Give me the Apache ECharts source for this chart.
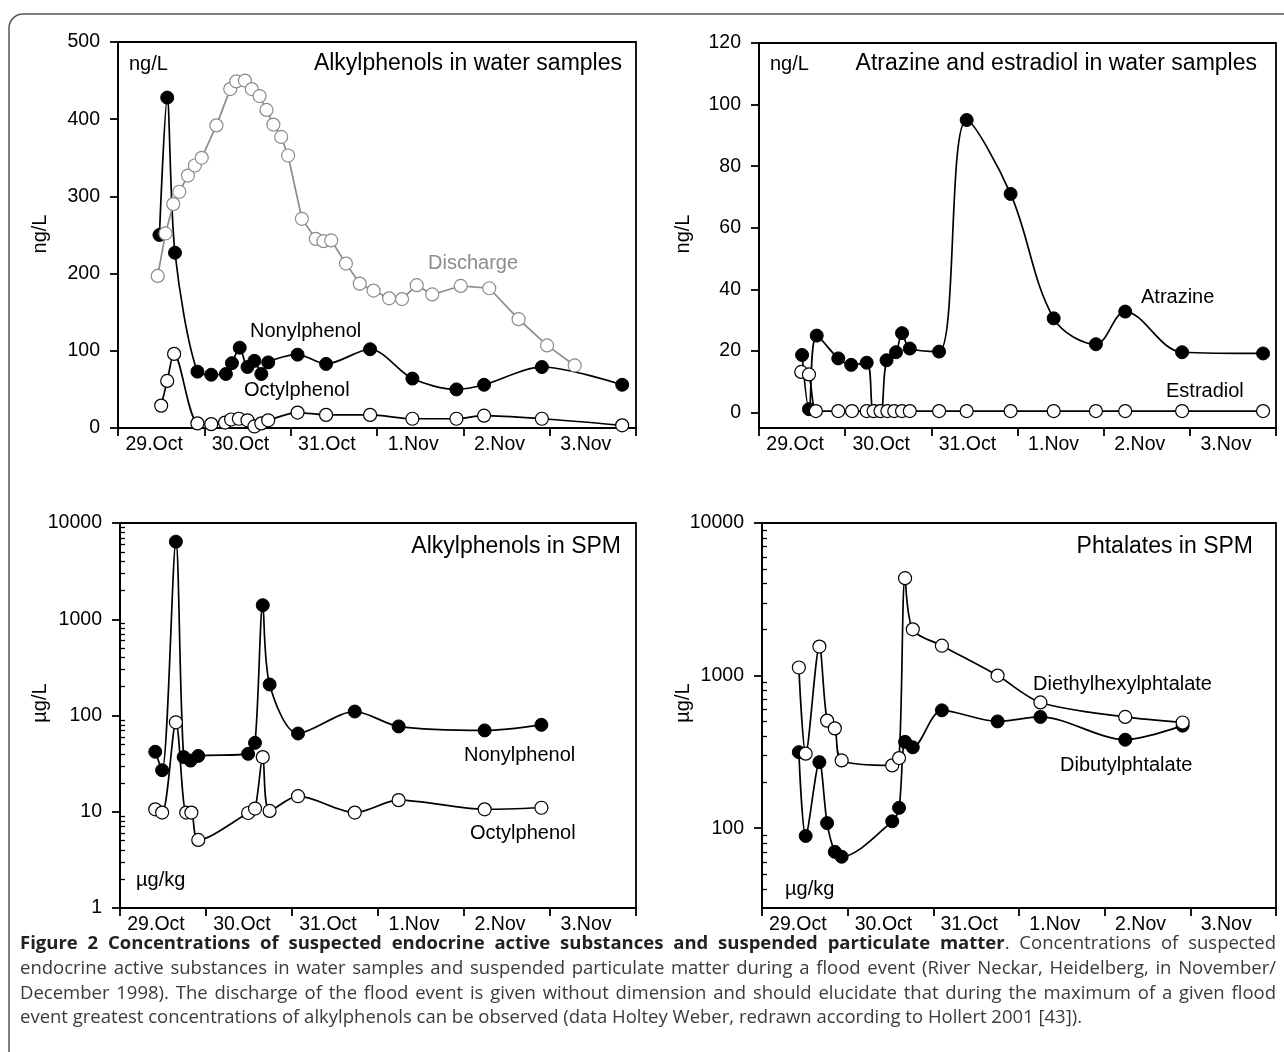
<!DOCTYPE html>
<html><head><meta charset="utf-8">
<script src="https://cdn.jsdelivr.net/npm/echarts@6/dist/echarts.min.js"></script>
<style>html,body{margin:0;padding:0;background:#fff}#c{width:1284px;height:1052px}</style>
</head><body><div id="c"></div>
<script>
// ---- data (x = days since 29.Oct 00:00) ----
const dayLabels = ['29.Oct','30.Oct','31.Oct','1.Nov','2.Nov','3.Nov'];

// Panel A: Alkylphenols in water samples (ng/L)
const dischargeX = [0.46,0.55,0.64,0.71,0.81,0.89,0.97,1.14,1.30,1.37,1.47,1.55,1.64,1.72,1.80,1.89,1.97,2.13,2.29,2.38,2.47,2.64,2.80,2.96,3.14,3.29,3.46,3.64,3.97,4.30,4.64,4.97,5.29];
const dischargeY = [197,252,290,306,327,340,350,392,439,449,450,439,430,412,393,377,353,271,245,242,243,213,187,178,168,167,185,173,184,181,141,107,81];
const nonylWaterX = [0.48,0.57,0.66,0.92,1.08,1.25,1.32,1.41,1.50,1.58,1.66,1.74,2.08,2.41,2.92,3.41,3.92,4.24,4.91,5.84];
const nonylWaterY = [250,428,227,73,69,70,84,104,79,87,70,85,95,83,102,64,50,56,79,56];
const octylWaterX = [0.50,0.57,0.65,0.92,1.08,1.24,1.31,1.40,1.50,1.58,1.66,1.74,2.08,2.41,2.92,3.41,3.92,4.24,4.91,5.84];
const octylWaterY = [29,61,96,6,5,7,11,12,10,2,6,10,20,17,17,12,12,16,12,3.5];

// Panel B: Atrazine and estradiol in water samples (ng/L)
const atrazineX = [0.50,0.58,0.67,0.92,1.07,1.25,1.33,1.41,1.48,1.59,1.66,1.75,2.09,2.41,2.92,3.42,3.91,4.25,4.91,5.85];
const atrazineY = [18.7,1.1,25,17.6,15.5,16.2,0.5,0.5,17,19.6,25.8,20.8,19.8,95,71,30.6,22.2,32.8,19.6,19.2];
const estradiolX = [0.49,0.58,0.66,0.92,1.08,1.25,1.33,1.41,1.49,1.57,1.66,1.75,2.09,2.41,2.92,3.42,3.91,4.25,4.91,5.85];
const estradiolY = [13.2,12.4,0.5,0.5,0.5,0.5,0.5,0.5,0.5,0.5,0.5,0.5,0.5,0.5,0.5,0.5,0.5,0.5,0.5,0.5];

// Panel C: Alkylphenols in SPM (log)
const nonylSpmX = [0.41,0.49,0.65,0.74,0.82,0.91,1.49,1.57,1.66,1.74,2.07,2.73,3.24,4.24,4.90];
const nonylSpmY = [42,27,6400,37,34,38,40,52,1400,210,65,110,77,70,80];
const octylSpmX = [0.41,0.49,0.65,0.77,0.83,0.91,1.49,1.57,1.66,1.74,2.07,2.73,3.24,4.24,4.90];
const octylSpmY = [10.6,9.8,85,9.8,9.8,5.1,9.7,10.8,37,10.2,14.5,9.8,13.2,10.6,11];

// Panel D: Phtalates in SPM (log)
const dehpX = [0.43,0.51,0.67,0.76,0.85,0.93,1.52,1.60,1.67,1.76,2.10,2.75,3.25,4.24,4.91];
const dehpY = [1130,308,1550,507,451,278,258,288,4350,2010,1570,1000,667,536,493];
const dbpX = [0.43,0.51,0.67,0.76,0.85,0.93,1.52,1.60,1.67,1.76,2.10,2.75,3.25,4.24,4.91];
const dbpY = [315,89,271,108,70,65,111,136,368,339,592,501,536,380,470];

// tick values
const ticksB = [0,20,40,60,80,100,120];
const ticksLogC = [1,10,100,1000,10000];
const ticksLogD = [100,1000,10000];
const minorC = [2,3,4,5,6,7,8,9,20,30,40,50,60,70,80,90,200,300,400,500,600,700,800,900,2000,3000,4000,5000,6000,7000,8000,9000];
const minorD = [40,50,60,70,80,90,200,300,400,500,600,700,800,900,2000,3000,4000,5000,6000,7000,8000,9000];

// caption
const captionBold = 'Figure 2 Concentrations of suspected endocrine active substances and suspended particulate matter';
const captionLines = [
  '. Concentrations of suspected',
  'endocrine active substances in water samples and suspended particulate matter during a flood event (River Neckar, Heidelberg, in November/',
  'December 1998). The discharge of the flood event is given without dimension and should elucidate that during the maximum of a given flood',
  'event greatest concentrations of alkylphenols can be observed (data Holtey Weber, redrawn according to Hollert 2001 [43]).'
];

// ---- chart ----
const FONT = '"Liberation Sans", Arial, Helvetica, sans-serif';
const zip = (xs, ys) => xs.map((x, i) => [x, ys[i]]);
const grids = [
  {left:118, top:42, width:518, height:386},
  {left:759, top:43, width:517, height:385},
  {left:120, top:523, width:516, height:385},
  {left:762, top:523, width:514, height:385}
].map(g => Object.assign(g, {show:true, borderColor:'#000', borderWidth:1.8, backgroundColor:'transparent'}));

const axisLineStyle = {color:'#000', width:1.8};
const LBL = {fontSize:19.5, color:'#000', fontFamily:FONT};
const xAxes = [];
grids.forEach((g, i) => {
  xAxes.push({gridIndex:i, type:'value', min:0, max:6, show:false});
  xAxes.push({gridIndex:i, type:'category', data:dayLabels, position:'bottom', boundaryGap:true,
    axisLine:{lineStyle:axisLineStyle}, axisTick:{show:true, interval:0, length:8, lineStyle:axisLineStyle},
    axisLabel:Object.assign({interval:0, margin:7, padding:[0,14,0,0]}, LBL), splitLine:{show:false}});
});

function yBase(extra) {
  return Object.assign({
    axisLine:{show:true, lineStyle:axisLineStyle},
    axisTick:{show:true, length:8, lineStyle:axisLineStyle},
    axisLabel:Object.assign({margin:18, formatter: v => String(Math.round(v))}, LBL),
    splitLine:{show:false}
  }, extra);
}
function minorAxis(grid, min, vals) {
  return {gridIndex:grid, type:'log', logBase:10, min, max:10000, position:'right', offset:-grids[grid].width,
    axisLine:{show:false}, axisLabel:{show:false}, splitLine:{show:false},
    axisTick:{show:true, inside:false, length:5, lineStyle:{color:'#000', width:1.3}, customValues:vals}};
}
const yAxes = [
  yBase({gridIndex:0, type:'value', min:0, max:500, interval:100}),
  yBase({gridIndex:1, type:'value', min:-5, max:120,
    axisLabel:Object.assign({margin:18, customValues:ticksB}, LBL),
    axisTick:{show:true, length:8, lineStyle:axisLineStyle, customValues:ticksB}}),
  yBase({gridIndex:2, type:'log', logBase:10, min:1, max:10000,
    axisLabel:Object.assign({margin:18, customValues:ticksLogC, formatter: v => String(Math.round(v))}, LBL),
    axisTick:{show:true, length:8, lineStyle:axisLineStyle, customValues:ticksLogC}}),
  yBase({gridIndex:3, type:'log', logBase:10, min:30, max:10000,
    axisLabel:Object.assign({margin:18, customValues:ticksLogD, formatter: v => String(Math.round(v))}, LBL),
    axisTick:{show:true, length:8, lineStyle:axisLineStyle, customValues:ticksLogD}}),
  minorAxis(2, 1, minorC),
  minorAxis(3, 30, minorD)
];

function ser(grid, yIdx, data, kind, smooth, z) {
  const filled = kind === 'filled';
  const grey = kind === 'grey';
  const lc = grey ? '#8c8c8c' : '#000';
  return {type:'line', xAxisIndex:grid*2, yAxisIndex:yIdx, data, smooth, z,
    symbol:'circle', symbolSize:13, showAllSymbol:true, silent:true,
    lineStyle:{color:lc, width:1.7},
    itemStyle:filled ? {color:'#000', borderColor:'#000', borderWidth:1} : {color:'#fff', borderColor:lc, borderWidth:1.2}};
}
const series = [
  ser(0, 0, zip(nonylWaterX, nonylWaterY), 'filled', 0.3, 2),
  ser(0, 0, zip(octylWaterX, octylWaterY), 'open', 0.3, 3),
  ser(0, 0, zip(dischargeX, dischargeY), 'grey', false, 4),
  ser(1, 1, zip(atrazineX, atrazineY), 'filled', 0.35, 2),
  ser(1, 1, zip(estradiolX, estradiolY), 'open', 0.2, 3),
  ser(2, 2, zip(nonylSpmX, nonylSpmY), 'filled', 0.3, 2),
  ser(2, 2, zip(octylSpmX, octylSpmY), 'open', 0.3, 3),
  ser(3, 3, zip(dbpX, dbpY), 'filled', 0.3, 2),
  ser(3, 3, zip(dehpX, dehpY), 'open', 0.3, 3)
];

function txt(x, y, text, align, size, color, rot) {
  return {type:'text', x, y, rotation:rot || 0, silent:true, z:10,
    style:{text, fill:color || '#000', font:(size||20) + 'px ' + FONT, textAlign:align || 'left', textVerticalAlign:'middle'}};
}

// caption layout: justified lines (words placed with measured widths)
const CAPF = '"Open Sans", "DejaVu Sans", sans-serif';
const FB = 'bold 18.5px ' + CAPF, FN = '18.5px ' + CAPF;
const mctx = document.createElement('canvas').getContext('2d');
function mw(t, f) { mctx.font = f; return mctx.measureText(t).width; }
function captionGraphics() {
  const lines = [];
  const l0 = captionBold.split(' ').map(w => [{t:w, b:true}]);
  const rest = captionLines[0].split(' ');
  l0[l0.length - 1].push({t:rest[0], b:false});
  rest.slice(1).forEach(w => l0.push([{t:w, b:false}]));
  lines.push(l0);
  for (let i = 1; i < captionLines.length; i++) lines.push(captionLines[i].split(' ').map(w => [{t:w, b:false}]));
  const out = [];
  const x0 = 20, x1 = 1276, y0 = 944, dy = 24.7;
  lines.forEach((words, li) => {
    const widths = words.map(segs => segs.reduce((s, g) => s + mw(g.t, g.b ? FB : FN), 0));
    const total = widths.reduce((a, b) => a + b, 0);
    const natGap = mw(' ', FN);
    let gap = natGap;
    if (li < lines.length - 1) gap = Math.max(natGap, (x1 - x0 - total) / (words.length - 1));
    let x = x0;
    words.forEach((segs, wi) => {
      let sx = x;
      segs.forEach(g => {
        const f = g.b ? FB : FN;
        out.push({type:'text', x:sx, y:y0 + li * dy, silent:true, z:10,
          style:{text:g.t, font:f, fill:g.b ? '#222' : '#3a3a3a', textAlign:'left', textVerticalAlign:'middle'}});
        sx += mw(g.t, f);
      });
      x += widths[wi] + gap;
    });
  });
  return out;
}

const graphic = [
  {type:'rect', shape:{x:9, y:14, width:1300, height:1080, r:14}, style:{fill:'none', stroke:'#555', lineWidth:1.5}, silent:true, z:0},
  txt(40, 234, 'ng/L', 'center', 20, '#000', Math.PI/2),
  txt(683, 234, 'ng/L', 'center', 20, '#000', Math.PI/2),
  txt(40, 703, 'µg/L', 'center', 20, '#000', Math.PI/2),
  txt(683, 703, 'µg/L', 'center', 20, '#000', Math.PI/2),
  txt(129, 64, 'ng/L', 'left', 20),
  txt(622, 64, 'Alkylphenols in water samples', 'right', 23),
  txt(428, 263, 'Discharge', 'left', 20, '#8c8c8c'),
  txt(250, 331, 'Nonylphenol', 'left', 20),
  txt(244, 390, 'Octylphenol', 'left', 20),
  txt(770, 64, 'ng/L', 'left', 20),
  txt(1257, 64, 'Atrazine and estradiol in water samples', 'right', 23),
  txt(1141, 297, 'Atrazine', 'left', 20),
  txt(1166, 391, 'Estradiol', 'left', 20),
  txt(621, 547, 'Alkylphenols in SPM', 'right', 23),
  txt(464, 755, 'Nonylphenol', 'left', 20),
  txt(470, 833, 'Octylphenol', 'left', 20),
  txt(136, 880, 'µg/kg', 'left', 20),
  txt(1253, 547, 'Phtalates in SPM', 'right', 23),
  txt(1033, 684, 'Diethylhexylphtalate', 'left', 20),
  txt(1060, 765, 'Dibutylphtalate', 'left', 20),
  txt(785, 889, 'µg/kg', 'left', 20)
].concat(captionGraphics());

const chart = echarts.init(document.getElementById('c'), null, {renderer:'canvas'});
chart.setOption({animation:false, backgroundColor:'#fff', grid:grids, xAxis:xAxes, yAxis:yAxes, series, graphic});
</script></body></html>
